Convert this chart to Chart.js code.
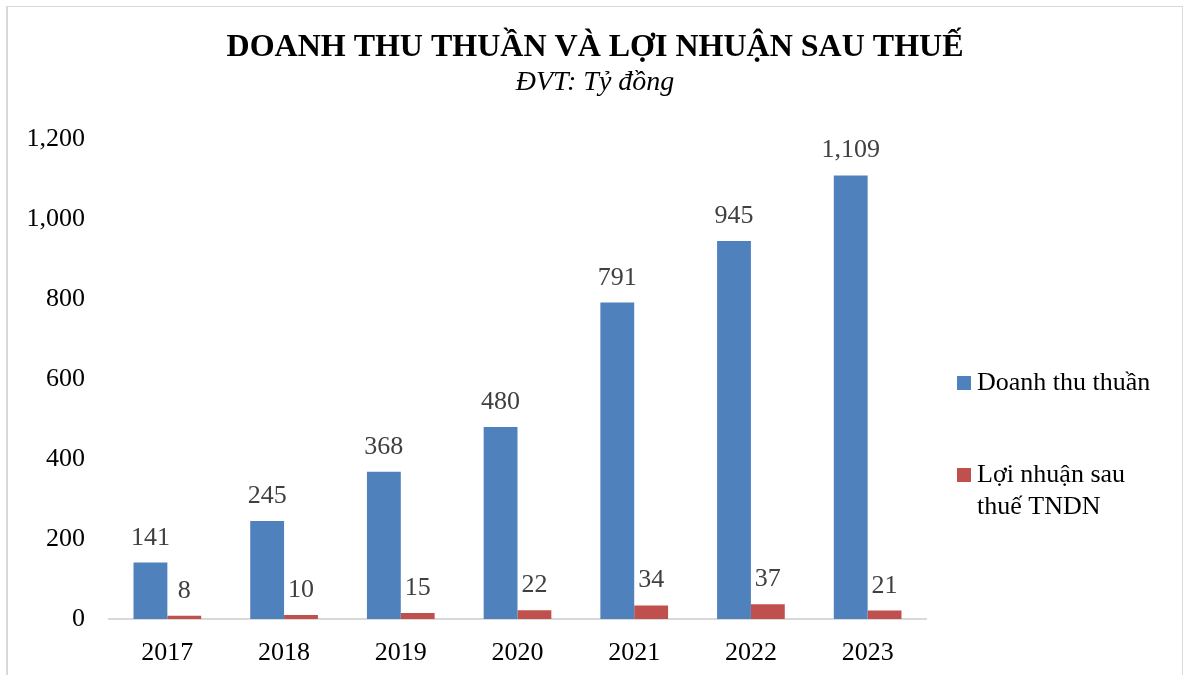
<!DOCTYPE html>
<html lang="vi">
<head>
    <meta charset="UTF-8">
    <title>Doanh thu thuần và lợi nhuận sau thuế</title>
    <style>
        html, body {
            margin: 0;
            padding: 0;
            background: #ffffff;
        }
        .khung {
            width: 1183px;
            height: 675px;
            position: relative;
        }
    </style>
</head>
<body>
    <div class="khung">
        <canvas id="bieuDo" width="1183" height="675"></canvas>
    </div>

    <script src="https://cdn.jsdelivr.net/npm/chart.js"></script>
    <script>
        // Dữ liệu
        const nam = ['2017', '2018', '2019', '2020', '2021', '2022', '2023'];
        const doanhThu = [141, 245, 368, 480, 791, 945, 1109];
        const loiNhuan = [8, 10, 15, 22, 34, 37, 21];
        const tenSeries = ['Doanh thu thuần', ['Lợi nhuận sau', 'thuế TNDN']];
        const mocTrucY = [0, 200, 400, 600, 800, 1000, 1200];
        const tieuDe = 'DOANH THU THUẦN VÀ LỢI NHUẬN SAU THUẾ';
        const donVi = 'ĐVT: Tỷ đồng';

        const FONT = "'Liberation Serif', 'Times New Roman', serif";
        const XANH = '#4F81BD';
        const DO = '#C0504D';

        // Tiêu đề + đơn vị, căn giữa cả khung hình
        const tieuDePlugin = {
            id: 'tieuDePlugin',
            afterDraw(chart) {
                const ctx = chart.ctx;
                const cx = 595;
                ctx.save();
                ctx.fillStyle = '#000000';
                ctx.textAlign = 'center';
                ctx.textBaseline = 'alphabetic';
                ctx.font = 'bold 32px ' + FONT;
                ctx.fillText(tieuDe, cx, 56);
                ctx.font = 'italic 28px ' + FONT;
                ctx.fillText(donVi, cx, 90);
                ctx.restore();
            }
        };

        // Nhãn số liệu trên đầu cột
        const nhanSoLieu = {
            id: 'nhanSoLieu',
            afterDatasetsDraw(chart) {
                const ctx = chart.ctx;
                ctx.save();
                ctx.font = '26px ' + FONT;
                ctx.fillStyle = '#404040';
                ctx.textAlign = 'center';
                ctx.textBaseline = 'alphabetic';
                chart.data.datasets.forEach((ds, i) => {
                    const meta = chart.getDatasetMeta(i);
                    meta.data.forEach((bar, j) => {
                        ctx.fillText(ds.data[j].toLocaleString('en-US'), bar.x, bar.y - 18);
                    });
                });
                ctx.restore();
            }
        };

        // Chú thích bên phải (có xuống dòng)
        const chuThich = {
            id: 'chuThich',
            afterDraw(chart) {
                const ctx = chart.ctx;
                const x = chart.chartArea.right + 31;
                const viTri = [383, 475];
                ctx.save();
                ctx.font = '26px ' + FONT;
                ctx.textBaseline = 'middle';
                chart.data.datasets.forEach((ds, i) => {
                    const y = viTri[i];
                    ctx.fillStyle = ds.backgroundColor;
                    ctx.fillRect(x, y - 7, 14, 14);
                    ctx.fillStyle = '#000000';
                    const dong = Array.isArray(tenSeries[i]) ? tenSeries[i] : [tenSeries[i]];
                    dong.forEach((t, k) => ctx.fillText(t, x + 20, y + k * 32));
                });
                ctx.restore();
            }
        };

        // Viền xám nhạt quanh khung
        const vien = {
            id: 'vien',
            afterDraw(chart) {
                const ctx = chart.ctx;
                ctx.save();
                ctx.fillStyle = '#d9d9d9';
                ctx.fillRect(6, 6, 2, chart.height - 6);
                ctx.fillRect(6, 6, chart.width - 6, 1);
                ctx.fillRect(chart.width - 1, 6, 1, chart.height - 6);
                ctx.restore();
            }
        };

        new Chart(document.getElementById('bieuDo'), {
            type: 'bar',
            data: {
                labels: nam,
                datasets: [
                    { label: 'Doanh thu thuần', data: doanhThu, backgroundColor: XANH },
                    { label: 'Lợi nhuận sau thuế TNDN', data: loiNhuan, backgroundColor: DO }
                ]
            },
            options: {
                responsive: false,
                animation: false,
                categoryPercentage: 0.58,
                barPercentage: 1,
                layout: {
                    padding: { top: 139, right: 257, bottom: 8, left: 0 }
                },
                plugins: {
                    legend: { display: false },
                    tooltip: { enabled: false },
                    title: { display: false }
                },
                scales: {
                    x: {
                        grid: { display: false },
                        border: { display: true, color: '#d9d9d9', width: 2 },
                        afterFit(scale) {
                            scale.height = 675 - 619 - 8;
                        },
                        ticks: {
                            color: '#000000',
                            padding: 11,
                            font: { family: FONT, size: 26 }
                        }
                    },
                    y: {
                        min: 0,
                        max: 1200,
                        afterBuildTicks(scale) {
                            scale.ticks = mocTrucY.map(v => ({ value: v }));
                        },
                        afterFit(scale) {
                            scale.width = 109;
                        },
                        grid: { display: false },
                        border: { display: false },
                        ticks: {
                            color: '#000000',
                            padding: 16,
                            font: { family: FONT, size: 26 },
                            callback: v => v.toLocaleString('en-US')
                        }
                    }
                }
            },
            plugins: [tieuDePlugin, nhanSoLieu, chuThich, vien]
        });
    </script>
</body>
</html>
